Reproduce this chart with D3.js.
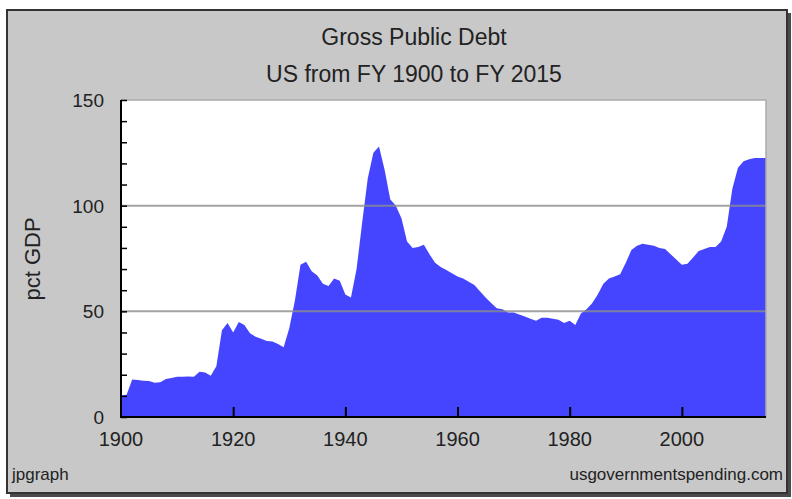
<!DOCTYPE html>
<html>
<head>
<meta charset="utf-8">
<script src="https://cdnjs.cloudflare.com/ajax/libs/d3/7.8.5/d3.min.js"></script>
<style>
  body { margin: 0; background: #fff; }
  svg { display: block; font-family: "Liberation Sans", Arial, sans-serif; }
</style>
</head>
<body>
<svg id="chart" width="792" height="499"></svg>
<script>
// fiscal years and gross public debt, pct of GDP
var years = d3.range(1900, 2016);
var debtPct = [
  10.2, 10.5, 17.8, 17.5, 17.2, 17.0, 16.2, 16.5, 18.0, 18.5,
  19.0, 19.0, 19.2, 19.0, 21.4, 21.0, 19.5, 24.0, 41.0, 44.5,
  40.0, 45.0, 43.5, 39.6, 38.0, 37.0, 36.0, 35.7, 34.5, 33.0,
  42.0, 55.0, 72.0, 73.5, 69.0, 67.0, 63.0, 62.0, 65.5, 64.5,
  58.0, 56.5, 70.0, 92.0, 113.0, 125.0, 128.0, 117.0, 103.0, 100.0,
  94.0, 83.0, 80.0, 80.5, 81.5, 77.0, 73.0, 71.0, 69.5, 68.0,
  66.5, 65.5, 64.0, 62.5, 59.5, 56.5, 54.0, 51.5, 51.0, 49.5,
  49.5, 48.5, 47.5, 46.5, 45.5, 47.0, 47.0, 46.5, 46.0, 44.5,
  45.5, 43.5, 49.0, 51.0, 53.8, 58.0, 63.0, 65.5, 66.5, 67.5,
  73.0, 79.0, 81.0, 82.0, 81.5, 81.0, 80.0, 79.5, 77.0, 74.5,
  72.0, 72.5, 75.5, 78.5, 79.5, 80.5, 80.5, 83.0, 90.0, 108.0,
  118.0, 121.0, 122.0, 122.5, 122.5, 122.5
];
var xTicks = [1900, 1920, 1940, 1960, 1980, 2000];
var yTicks = [0, 50, 100, 150];
var yMinorTicks = d3.range(0, 151, 10);
var titleLines = ["Gross Public Debt", "US from FY 1900 to FY 2015"];

var data = years.map(function(y, i) { return { year: y, value: debtPct[i] }; });

var svg = d3.select("#chart");

// outer frame with shadow
svg.append("rect").attr("x", 10).attr("y", 13).attr("width", 781).attr("height", 484)
  .attr("fill", "#4a4a4a");
svg.append("rect").attr("x", 7).attr("y", 10).attr("width", 780).attr("height", 483)
  .attr("fill", "#c8c8c8").attr("stroke", "#333").attr("stroke-width", 2);

var plot = { left: 121, right: 766, top: 100, bottom: 417 };

var x = d3.scaleLinear().domain([1900, 2015]).range([plot.left, plot.right]);
var y = d3.scaleLinear().domain([0, 150]).range([plot.bottom, plot.top]);

// plot background
svg.append("rect")
  .attr("x", plot.left).attr("y", plot.top)
  .attr("width", plot.right - plot.left).attr("height", plot.bottom - plot.top)
  .attr("fill", "#fff");

// area
var area = d3.area()
  .x(function(d) { return x(d.year); })
  .y0(y(0))
  .y1(function(d) { return y(d.value); });

svg.append("path").datum(data)
  .attr("d", area)
  .attr("fill", "#4545ff");

// gridlines
svg.append("g").selectAll("line")
  .data([50, 100])
  .enter().append("line")
  .attr("x1", plot.left).attr("x2", plot.right)
  .attr("y1", function(d) { return y(d); }).attr("y2", function(d) { return y(d); })
  .attr("stroke", "#8c8c8c").attr("stroke-opacity", 0.8).attr("stroke-width", 2);

// plot border top/right (light)
svg.append("path")
  .attr("d", "M" + plot.left + "," + plot.top + "H" + plot.right + "V" + plot.bottom)
  .attr("fill", "none").attr("stroke", "#aaa").attr("stroke-width", 1.5);

// y axis, ticks inward
var yAxis = d3.axisRight(y).tickValues(yMinorTicks).tickSize(6).tickFormat("");
var gy = svg.append("g").attr("transform", "translate(" + plot.left + ",0)").call(yAxis);
gy.select(".domain").remove();
gy.selectAll("line").attr("stroke", "#000").attr("stroke-width", 1.5);
svg.append("line")
  .attr("x1", plot.left).attr("x2", plot.left)
  .attr("y1", plot.top).attr("y2", plot.bottom + 1)
  .attr("stroke", "#000").attr("stroke-width", 2);

svg.append("g").selectAll("text")
  .data(yTicks)
  .enter().append("text")
  .attr("x", 104)
  .attr("y", function(d) { return y(d) + 7; })
  .attr("text-anchor", "end")
  .attr("font-size", 19)
  .attr("fill", "#222")
  .text(function(d) { return d; });

// x axis, ticks inward
var xAxis = d3.axisTop(x).tickValues(xTicks.slice(1)).tickSize(10).tickFormat("");
var gx = svg.append("g").attr("transform", "translate(0," + plot.bottom + ")").call(xAxis);
gx.select(".domain").remove();
gx.selectAll("line").attr("stroke", "#000").attr("stroke-width", 2);
svg.append("line")
  .attr("x1", plot.left).attr("x2", plot.right)
  .attr("y1", plot.bottom).attr("y2", plot.bottom)
  .attr("stroke", "#000").attr("stroke-width", 2);

svg.append("g").selectAll("text")
  .data(xTicks)
  .enter().append("text")
  .attr("x", function(d) { return x(d); })
  .attr("y", 446)
  .attr("text-anchor", "middle")
  .attr("font-size", 20)
  .attr("fill", "#222")
  .text(function(d) { return d; });

// titles
svg.append("g").selectAll("text")
  .data(titleLines)
  .enter().append("text")
  .attr("x", 414)
  .attr("y", function(d, i) { return 45 + i * 37; })
  .attr("text-anchor", "middle")
  .attr("font-size", 23)
  .attr("fill", "#222")
  .text(function(d) { return d; });

// y axis label
svg.append("text")
  .attr("transform", "translate(40,259) rotate(-90)")
  .attr("text-anchor", "middle")
  .attr("font-size", 22)
  .attr("fill", "#222")
  .text("pct GDP");

// footers
svg.append("text").attr("x", 12).attr("y", 480)
  .attr("font-size", 17).attr("fill", "#222").text("jpgraph");
svg.append("text").attr("x", 783).attr("y", 480).attr("text-anchor", "end")
  .attr("font-size", 17).attr("fill", "#222").text("usgovernmentspending.com");
</script>
</body>
</html>
